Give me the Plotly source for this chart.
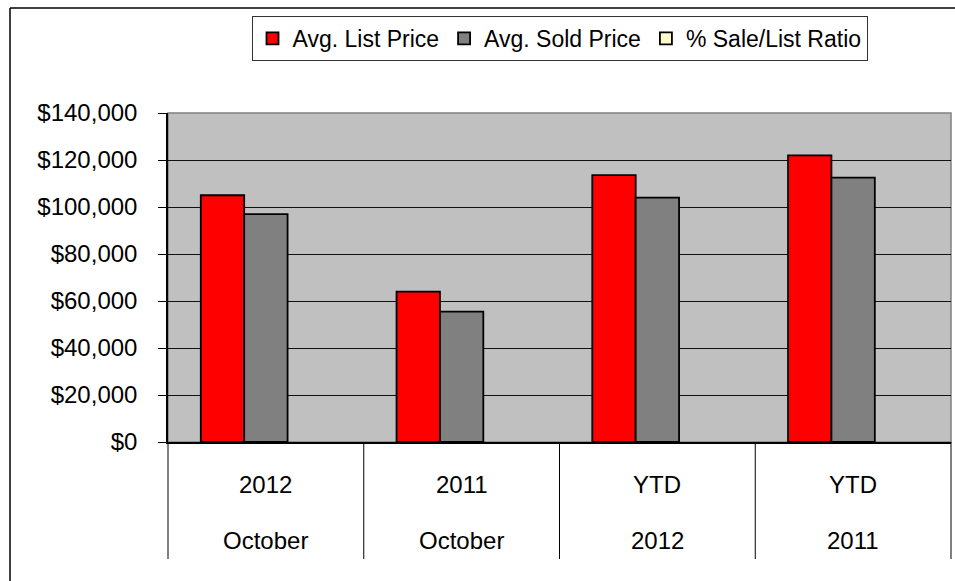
import plotly.graph_objects as go

# ---- data ----
top_labels = ["2012", "2011", "YTD", "YTD"]
bottom_labels = ["October", "October", "2012", "2011"]
categories = [f"{a} {b}" for a, b in zip(top_labels, bottom_labels)]

avg_list_price = [105000, 64000, 113600, 122000]
avg_sold_price = [97000, 55500, 104000, 112500]
sale_list_ratio = [None, None, None, None]  # not visible on the $ scale

series_names = ["Avg. List Price", "Avg. Sold Price", "% Sale/List Ratio"]
series_colors = ["#FF0000", "#808080", "#FFFFCC"]
series_values = [avg_list_price, avg_sold_price, sale_list_ratio]

FONT = "Liberation Sans, Arial, sans-serif"

fig = go.Figure()
for name, color, vals in zip(series_names, series_colors, series_values):
    fig.add_trace(go.Bar(
        x=categories, y=vals, name=name,
        marker=dict(color=color, line=dict(color="#000000", width=1.8)),
    ))

# geometry helpers (paper coordinates)
L, R, T, B = 168, 4, 113, 139
W, H = 955, 581
pw, ph = W - L - R, H - T - B


def px_x(px):
    return (px - L) / pw


def px_y(py):
    return (H - B - py) / ph


shapes = []
# plot-area border (gray)
shapes.append(dict(type="rect", xref="paper", yref="paper", x0=0, x1=1, y0=0, y1=1,
                   line=dict(color="#808080", width=1.5), layer="below"))
# category dividers below the axis
for i in range(len(categories) + 1):
    xp = i / len(categories)
    shapes.append(dict(type="line", xref="paper", yref="paper", x0=xp, x1=xp,
                       y0=0, y1=px_y(559), line=dict(color="#000000", width=1)))
# outer chart frame (left and top edges)
shapes.append(dict(type="line", xref="paper", yref="paper", x0=px_x(10), x1=px_x(10),
                   y0=px_y(8), y1=px_y(600), line=dict(color="#000000", width=1.5)))
shapes.append(dict(type="line", xref="paper", yref="paper", x0=px_x(10), x1=px_x(970),
                   y0=px_y(8), y1=px_y(8), line=dict(color="#000000", width=1.5)))

annotations = []
for cat, t, b in zip(categories, top_labels, bottom_labels):
    annotations.append(dict(x=cat, xref="x", y=px_y(484), yref="paper", text=t,
                            showarrow=False, yanchor="middle", xanchor="center",
                            font=dict(family=FONT, size=24, color="#000000")))
    annotations.append(dict(x=cat, xref="x", y=px_y(540), yref="paper", text=b,
                            showarrow=False, yanchor="middle", xanchor="center",
                            font=dict(family=FONT, size=24, color="#000000")))

fig.update_layout(
    width=W, height=H,
    margin=dict(l=L, r=R, t=T, b=B, pad=0),
    paper_bgcolor="#FFFFFF",
    plot_bgcolor="#C0C0C0",
    barmode="group",
    bargap=0.335,
    bargroupgap=0,
    font=dict(family=FONT, size=24, color="#000000"),
    showlegend=True,
    legend=dict(
        orientation="h",
        x=0.5, xanchor="center",
        y=px_y(16), yanchor="top",
        bgcolor="#FFFFFF",
        bordercolor="#333333", borderwidth=1,
        font=dict(family=FONT, size=23, color="#000000"),
        itemwidth=30,
        traceorder="normal",
    ),
    xaxis=dict(
        type="category",
        showticklabels=False,
        ticks="",
        showgrid=False,
        showline=True, linecolor="#000000", linewidth=1.5,
        zeroline=False,
        range=[-0.5, len(categories) - 0.5],
    ),
    yaxis=dict(
        range=[0, 140000],
        dtick=20000,
        tickprefix="$",
        tickformat=",d",
        ticks="outside", ticklen=8, tickcolor="#000000", tickwidth=1,
        ticklabelstandoff=16,
        showgrid=True, gridcolor="#111111", gridwidth=1,
        showline=True, linecolor="#000000", linewidth=1.5,
        zeroline=False,
        tickfont=dict(family=FONT, size=24, color="#000000"),
    ),
    shapes=shapes,
    annotations=annotations,
)

fig.write_html("out.html")
